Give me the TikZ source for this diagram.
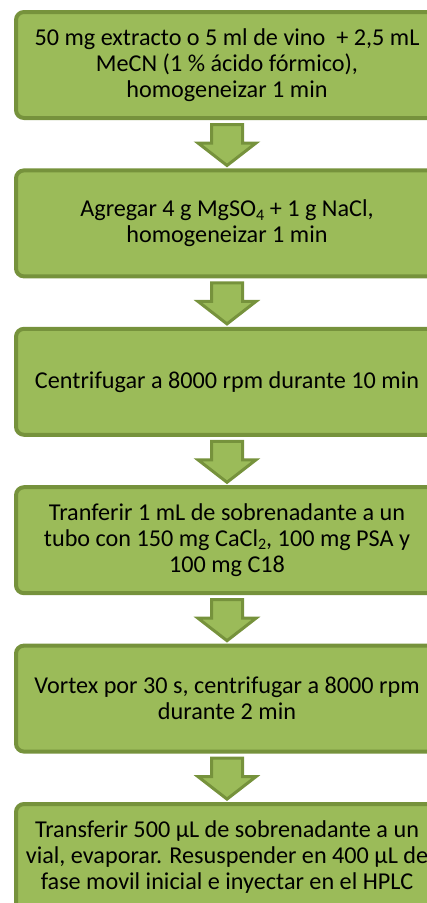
\documentclass[tikz,border=0pt]{standalone}
\usepackage{fontspec}
\setmainfont{Carlito}
\usetikzlibrary{calc}
\definecolor{boxfill}{HTML}{9BBB59}
\definecolor{boxline}{HTML}{76923C}
\newcommand{\mysub}[1]{\raisebox{-0.3ex}{\fontsize{16}{16}\selectfont #1}}
\begin{document}
\begin{tikzpicture}[x=1pt,y=-1pt,
  stepbox/.style={draw=boxline, fill=boxfill, line width=4pt, rounded corners=8pt,
    minimum width=422pt, minimum height=106pt, outer sep=0pt, inner sep=0pt,
    align=center, font=\fontsize{24.2}{25.8}\selectfont, text=black},
  downarrow/.style={draw=boxline, fill=boxfill, line width=3pt, line join=miter}]
\clip (0,0) rectangle (427,903);
\node[stepbox] (b1) at (227,65) {50 mg extracto o 5 ml de vino \ + 2,5 mL\\MeCN (1 \% ácido fórmico),\\homogeneizar 1 min};
\node[stepbox] (b2) at (227,223.4) {Agregar 4 g MgSO\mysub{4} + 1 g NaCl,\\homogeneizar 1 min};
\node[stepbox] (b3) at (227,381.8) {Centrifugar a 8000 rpm durante 10 min};
\node[stepbox] (b4) at (227,540.2) {Tranferir 1 mL de sobrenadante a un\\tubo con 150 mg CaCl\mysub{2}, 100 mg PSA y\\100 mg C18};
\node[stepbox] (b5) at (227,698.6) {Vortex por 30 s, centrifugar a 8000 rpm\\durante 2 min};
\node[stepbox] (b6) at (227,857) {Transferir 500 µL de sobrenadante a un\\vial, evaporar. Resuspender en 400 µL de\\fase movil inicial e inyectar en el HPLC};
\foreach \a in {b1,b2,b3,b4,b5} {
  \draw[downarrow] ($(\a.south)+(-15.5,6.5)$) -- ($(\a.south)+(15.5,6.5)$) -- ($(\a.south)+(15.5,25)$) -- ($(\a.south)+(29,25)$) -- ($(\a.south)+(0,47.5)$) -- ($(\a.south)+(-29,25)$) -- ($(\a.south)+(-15.5,25)$) -- cycle;
}
\end{tikzpicture}
\end{document}
